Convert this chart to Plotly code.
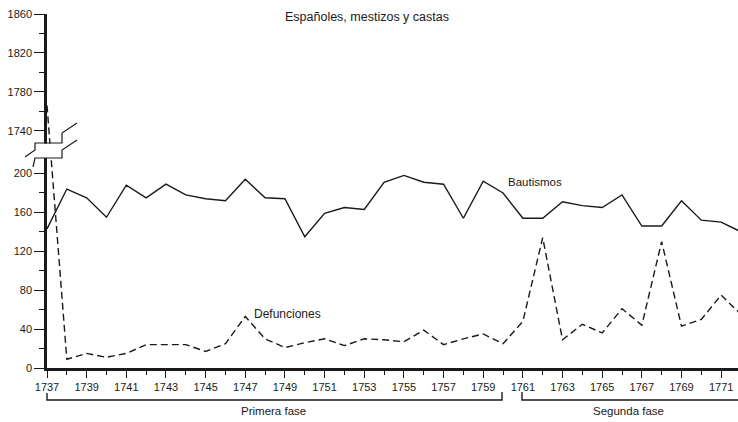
import plotly.graph_objects as go

# ---- data -------------------------------------------------------------
years = list(range(1737, 1773))
bautismos = [143, 184, 175, 155, 188, 175, 189, 178, 174, 172, 194, 175,
             174, 135, 159, 165, 163, 191, 198, 191, 189, 154, 192, 180,
             154, 154, 171, 167, 165, 178, 146, 146, 172, 152, 150, 140]
defunciones = [1766, 9, 15, 11, 15, 24, 24, 24, 17, 25, 53, 30,
               21, 26, 30, 23, 30, 29, 27, 39, 24, 30, 35, 25,
               48, 134, 29, 45, 36, 61, 44, 130, 43, 50, 75, 55]

low_major = [0, 40, 80, 120, 160, 200]
low_minor = [20, 60, 100, 140, 180]
high_major = [1740, 1780, 1820, 1860]
high_minor = [1760, 1800, 1840]
xtick_years = list(range(1737, 1772, 2))
xminor_years = list(range(1738, 1772, 2))

title_text = "Españoles, mestizos y castas"
label_baut = "Bautismos"
label_def = "Defunciones"
phase1 = "Primera fase"
phase2 = "Segunda fase"

# ---- broken-scale mapping (0-200 below, 1740-1860 above) ---------------
BREAK_LOW, BREAK_HIGH, HIGH_START = 200, 1740, 244


def scale(v):
    return v if v <= BREAK_LOW else v - BREAK_HIGH + HIGH_START


# ---- layout geometry (pixels) ------------------------------------------
W, H = 738, 422
L, R, T, B = 47, 0, 14, 54
PW, PH = W - L - R, H - T - B


def px(x):
    return (x - L) / PW


def py(y):
    return (H - B - y) / PH


FONT = "Liberation Sans, Arial, sans-serif"
INK = "#1a1a1a"

fig = go.Figure()
fig.add_trace(go.Scatter(x=years, y=[scale(v) for v in bautismos],
                         mode="lines", line=dict(color=INK, width=1.4),
                         name=label_baut, customdata=bautismos,
                         hovertemplate="%{x}: %{customdata}<extra></extra>"))
fig.add_trace(go.Scatter(x=years, y=[scale(v) for v in defunciones],
                         mode="lines", line=dict(color=INK, width=1.4, dash="7px,4px"),
                         name=label_def, customdata=defunciones,
                         hovertemplate="%{x}: %{customdata}<extra></extra>"))

ymaj = low_major + high_major
ymin = low_minor + high_minor

fig.update_layout(
    width=W, height=H, margin=dict(l=L, r=R, t=T, b=B),
    paper_bgcolor="white", plot_bgcolor="white", showlegend=False,
    font=dict(family=FONT, size=11, color=INK),
    xaxis=dict(range=[1737, 1771.85], showgrid=False, zeroline=False,
               showline=True, linecolor=INK, linewidth=2.5,
               tickmode="array", tickvals=xtick_years,
               ticktext=[str(y) for y in xtick_years],
               ticks="outside", ticklen=7, tickwidth=1, tickcolor=INK,
               minor=dict(tickmode="array", tickvals=xminor_years,
                          ticks="outside", ticklen=4, tickwidth=1, tickcolor=INK),
               tickfont=dict(size=11)),
    yaxis=dict(range=[0, scale(1860)], showgrid=False, zeroline=False,
               showline=True, linecolor=INK, linewidth=2.5,
               tickmode="array", tickvals=[scale(v) for v in ymaj],
               ticktext=[str(v) for v in ymaj],
               ticks="outside", ticklen=10, tickwidth=1, tickcolor=INK,
               minor=dict(tickmode="array", tickvals=[scale(v) for v in ymin],
                          ticks="outside", ticklen=5, tickwidth=1, tickcolor=INK),
               tickfont=dict(size=11)),
)

shapes = []
# axis break: white box + two zigzags
shapes.append(dict(type="rect", xref="paper", yref="paper",
                   x0=px(33), x1=px(62), y0=py(158), y1=py(143.5),
                   fillcolor="white", line=dict(width=0), layer="above"))


def path(points):
    return "M " + " L ".join(f"{px(a):.5f},{py(b):.5f}" for a, b in points)


for pts in ([(25, 157), (35, 150), (35, 143), (62, 143), (62, 133), (77, 123)],
            [(33, 167), (35, 158), (62, 158), (62, 150), (77, 140)]):
    shapes.append(dict(type="path", xref="paper", yref="paper", path=path(pts),
                       line=dict(color=INK, width=1.2), layer="above"))

# phase brackets
shapes.append(dict(type="path", xref="paper", yref="paper",
                   path=path([(47, 393), (47, 400), (502, 400), (502, 392)]),
                   line=dict(color=INK, width=1.4)))
shapes.append(dict(type="path", xref="paper", yref="paper",
                   path=path([(522, 392), (522, 400), (738, 400)]),
                   line=dict(color=INK, width=1.4)))
fig.update_layout(shapes=shapes)

ann = [
    (367, 17, title_text, 12.5),
    (535, 182, label_baut, 11.5),
    (287, 314, label_def, 12),
    (273, 411, phase1, 11.5),
    (628, 411, phase2, 11.5),
]
for x, y, t, s in ann:
    fig.add_annotation(x=px(x), y=py(y), xref="paper", yref="paper", text=t,
                       showarrow=False, xanchor="center", yanchor="middle",
                       font=dict(family=FONT, size=s, color=INK))

fig.write_html("out.html", config={"displayModeBar": False},
               post_script="document.body.style.margin='0';"
                           "document.body.style.overflow='hidden';")
